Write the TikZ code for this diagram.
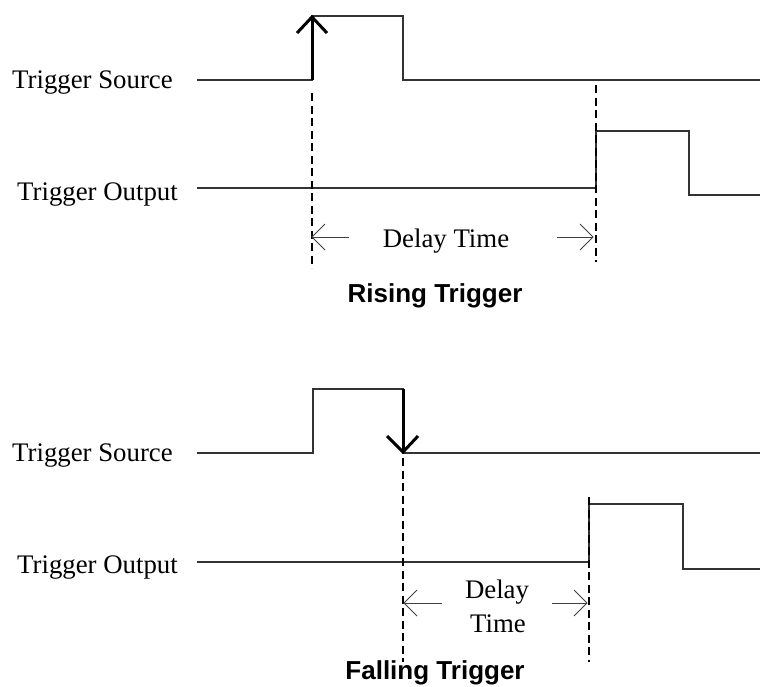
\documentclass[tikz,border=0pt]{standalone}
\usepackage{fontspec}
\setmainfont{Liberation Serif}
\newfontfamily\titlefont{Liberation Sans}
\begin{document}
\begin{tikzpicture}[x=1pt,y=-1pt,
  signal/.style={draw=black!80,line width=1.2pt,line join=miter},
  boldarrow/.style={draw=black,line width=3pt,line cap=butt,line join=miter},
  guide/.style={draw=black,line width=1.3pt,dash pattern=on 8pt off 4.5pt},
  delayarrow/.style={draw=black!75,line width=1pt},
  lbl/.style={inner sep=0pt,font=\fontsize{26.8}{30}\selectfont},
  ttl/.style={inner sep=0pt,font=\titlefont\bfseries\fontsize{26}{30}\selectfont}]
\useasboundingbox (0,0) rectangle (762,686);
% ---------- Rising trigger ----------
\node[lbl,anchor=base west] (rsrc) at (12,88) {Trigger Source};
\node[lbl,anchor=base west] (rout) at (17,200) {Trigger Output};
\coordinate (rs0) at (197,80);
\draw[signal] (rs0) -- (312,80) -- (312,16) -- (403,16) -- (403,80) -- (760,80);
\draw[signal] (197,188) -- (596,188) -- (596,131) -- (689,131) -- (689,195) -- (760,195);
\draw[boldarrow] (312,80) -- (312,18);
\draw[boldarrow] (297,33) -- (312,17) -- (327,33);
\draw[guide] (312,93) -- (312,268);
\draw[guide] (596,85) -- (596,262);
\coordinate (rl) at (312,237);
\coordinate (rr) at (593,237);
\draw[delayarrow] (349,237) -- (rl);
\draw[delayarrow] (325,224) -- (rl) -- (325,250);
\draw[delayarrow] (557,237) -- (rr);
\draw[delayarrow] (580,224) -- (rr) -- (580,250);
\node[lbl,anchor=base] (rdelay) at (446,247) {Delay Time};
\node[ttl,anchor=base] (rtitle) at (435,302) {Rising Trigger};
% ---------- Falling trigger ----------
\node[lbl,anchor=base west] (fsrc) at (12,461) {Trigger Source};
\node[lbl,anchor=base west] (fout) at (17,573) {Trigger Output};
\draw[signal] (197,453) -- (313,453) -- (313,389) -- (403,389) -- (403,453) -- (760,453);
\draw[signal] (197,562) -- (589,562) -- (589,504) -- (683,504) -- (683,569) -- (760,569);
\draw[boldarrow] (403,389) -- (403,450);
\draw[boldarrow] (387,436) -- (403,452) -- (418,436);
\draw[guide] (403,458) -- (403,662);
\draw[guide] (589,497) -- (589,662);
\coordinate (fl) at (404,603);
\coordinate (fr) at (587,603);
\draw[delayarrow] (442,603) -- (fl);
\draw[delayarrow] (417,590) -- (fl) -- (417,616);
\draw[delayarrow] (552,603) -- (fr);
\draw[delayarrow] (574,590) -- (fr) -- (574,616);
\node[lbl,anchor=base] (fdelay) at (497,598) {Delay};
\node[lbl,anchor=base] (ftime) at (498,632) {Time};
\node[ttl,anchor=base] (ftitle) at (435,679) {Falling Trigger};
\end{tikzpicture}
\end{document}
